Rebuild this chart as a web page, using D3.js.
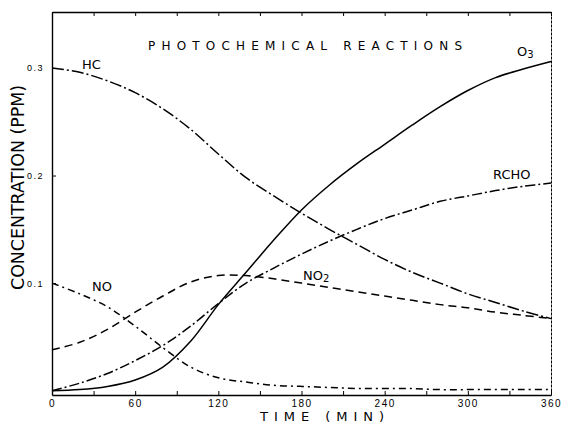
<!DOCTYPE html>
<html>
<head>
<meta charset="utf-8">
<script src="https://cdn.jsdelivr.net/npm/d3@7"></script>
<style>
  body { margin: 0; background: #fff; }
  svg { font-family: "DejaVu Sans", sans-serif; }
  .axis path, .axis line { stroke: #000; }
  .axis text { fill: #000; }
</style>
</head>
<body>
<div id="chart"></div>
<script>
// time grid (min) and concentrations (ppm)
const times = [0, 20, 40, 60, 80, 100, 120, 140, 160, 180, 200, 220, 240, 260, 280, 300, 320, 340, 360];
const hc   = [0.300, 0.296, 0.288, 0.277, 0.262, 0.243, 0.220, 0.198, 0.181, 0.165, 0.150, 0.136, 0.122, 0.110, 0.100, 0.090, 0.082, 0.074, 0.067];
const o3   = [0.000, 0.001, 0.004, 0.010, 0.022, 0.046, 0.080, 0.110, 0.140, 0.168, 0.191, 0.211, 0.229, 0.247, 0.264, 0.279, 0.291, 0.299, 0.306];
const rcho = [0.000, 0.007, 0.016, 0.028, 0.042, 0.060, 0.081, 0.100, 0.114, 0.127, 0.139, 0.150, 0.160, 0.168, 0.176, 0.181, 0.186, 0.190, 0.193];
const no2  = [0.038, 0.045, 0.057, 0.073, 0.088, 0.101, 0.107, 0.107, 0.104, 0.100, 0.096, 0.092, 0.088, 0.084, 0.080, 0.077, 0.073, 0.070, 0.067];
const no   = [0.100, 0.090, 0.078, 0.060, 0.040, 0.022, 0.012, 0.008, 0.005, 0.004, 0.003, 0.002, 0.002, 0.002, 0.001, 0.001, 0.001, 0.001, 0.001];

const xTicks = [0, 60, 120, 180, 240, 300, 360];
const yTicks = [0.1, 0.2, 0.3];

const config = {
    width: 565,
    height: 425,
    margin: { top: 12, right: 14, bottom: 30, left: 52 }
};

const svg = d3.select('#chart').append('svg')
    .attr('width', config.width)
    .attr('height', config.height);

const innerW = config.width - config.margin.left - config.margin.right;
const innerH = config.height - config.margin.top - config.margin.bottom;

const xScale = d3.scaleLinear().domain([0, 360]).range([0, innerW]);
const yScale = d3.scaleLinear().domain([-0.004, 0.352]).range([innerH, 0]);

const chart = svg.append('g')
    .attr('transform', `translate(${config.margin.left}, ${config.margin.top})`);

// frame: bottom / left axes with labels, top / right plain with inward ticks
chart.append('g')
    .attr('class', 'axis x-axis')
    .attr('transform', `translate(0, ${innerH})`)
    .call(d3.axisBottom(xScale).tickValues(d3.range(0, 361, 30)).tickSize(-4).tickSizeOuter(0).tickFormat(''))
    .call(g => g.select('.domain').attr('stroke-width', 1.6));

chart.append('g')
    .attr('class', 'axis x-labels')
    .attr('transform', `translate(0, ${innerH})`)
    .call(d3.axisBottom(xScale).tickValues(xTicks).tickSize(0).tickPadding(5).tickFormat(d3.format('d')))
    .call(g => g.select('.domain').remove())
    .selectAll('text')
    .attr('font-size', 10)
    .attr('letter-spacing', 1.5);

chart.append('g')
    .attr('class', 'axis x-top')
    .call(d3.axisTop(xScale).tickValues(d3.range(0, 361, 30)).tickSize(-4).tickSizeOuter(0).tickFormat(''))
    .call(g => g.select('.domain').attr('stroke-width', 1.4));

chart.append('g')
    .attr('class', 'axis y-axis')
    .call(d3.axisLeft(yScale).tickValues(yTicks).tickSize(-4).tickSizeOuter(0).tickPadding(8).tickFormat(d3.format('.1f')))
    .call(g => g.select('.domain').attr('stroke-width', 1.4))
    .selectAll('text')
    .attr('font-size', 9)
    .attr('letter-spacing', 1.5);

chart.append('g')
    .attr('class', 'axis y-right')
    .attr('transform', `translate(${innerW}, 0)`)
    .call(d3.axisRight(yScale).tickValues([]).tickSizeOuter(0))
    .call(g => g.select('.domain').attr('stroke-dasharray', '3,1'));

// curves
const line = d3.line()
    .x(d => xScale(d[0]))
    .y(d => yScale(d[1]))
    .curve(d3.curveCatmullRom.alpha(0.5));

const series = [
    { values: hc,   dash: '12,3,2,3' },
    { values: o3,   dash: null },
    { values: rcho, dash: '10,3,2,3' },
    { values: no2,  dash: '8,5' },
    { values: no,   dash: '7,4,2,4' }
];

chart.append('g')
    .selectAll('path')
    .data(series)
    .enter()
    .append('path')
    .attr('d', d => line(times.map((t, i) => [t, d.values[i]])))
    .attr('fill', 'none')
    .attr('stroke', '#000')
    .attr('stroke-width', 1.5)
    .attr('stroke-dasharray', d => d.dash);

// curve labels
const labels = [
    { text: 'HC', sub: '', x: 82, y: 69 },
    { text: 'O', sub: '3', x: 517, y: 56 },
    { text: 'RCHO', sub: '', x: 493, y: 179 },
    { text: 'NO', sub: '2', x: 303, y: 280 },
    { text: 'NO', sub: '', x: 92, y: 291 }
];

labels.forEach(l => {
    const t = svg.append('text')
        .attr('x', l.x)
        .attr('y', l.y)
        .attr('font-size', 13)
        .text(l.text);
    if (l.sub) {
        t.append('tspan').attr('font-size', 10).attr('dy', 2).text(l.sub);
    }
});

// title
svg.append('text')
    .attr('x', 148)
    .attr('y', 50)
    .attr('font-size', 12)
    .attr('textLength', 314)
    .attr('lengthAdjust', 'spacing')
    .text('PHOTOCHEMICAL REACTIONS');

// X axis label
svg.append('text')
    .attr('x', 260)
    .attr('y', 421)
    .attr('font-size', 13)
    .attr('textLength', 124)
    .attr('lengthAdjust', 'spacing')
    .text('TIME (MIN)');

// Y axis label
svg.append('text')
    .attr('transform', 'translate(24, 290) rotate(-90)')
    .attr('font-size', 17)
    .attr('textLength', 205)
    .attr('lengthAdjust', 'spacingAndGlyphs')
    .text('CONCENTRATION (PPM)');
</script>
</body>
</html>
